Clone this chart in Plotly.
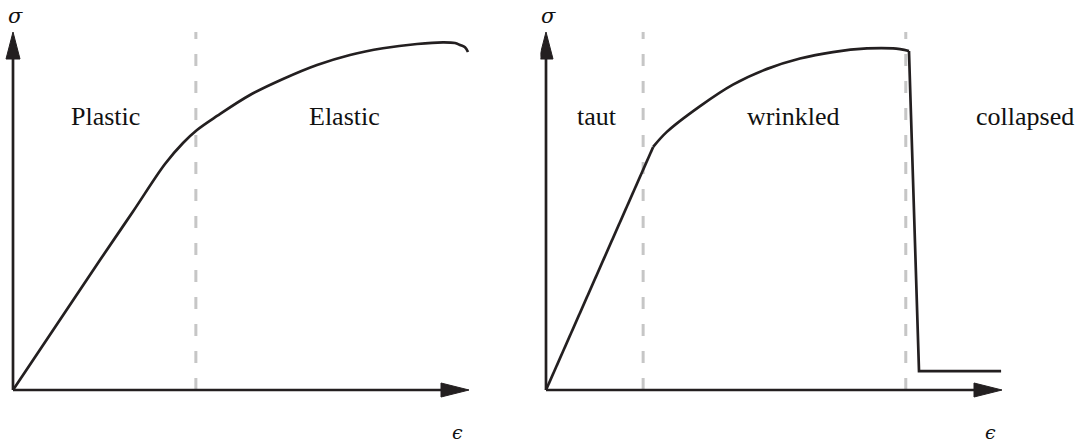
import plotly.graph_objects as go

# ---- data (strain in arbitrary units, stress in arbitrary units) ----
# Left panel: single smooth stress-strain curve
left_strain = [0.0, 1.908, 2.632, 3.333, 3.728, 4.035, 4.474, 5.197, 5.921, 6.667,
               7.390, 8.114, 8.860, 9.430, 9.693, 9.803, 9.912, 9.978]
left_stress = [0.0, 3.631, 4.986, 6.313, 6.899, 7.263, 7.654, 8.240, 8.687, 9.078,
               9.358, 9.545, 9.665, 9.712, 9.693, 9.637, 9.573, 9.441]
left_boundary = [4.01]
left_labels = ["Plastic", "Elastic"]
left_label_x = [2.03, 7.26]

# Right panel: taut (linear), wrinkled (curved), collapsed (drop + plateau)
taut_strain = [0.0, 2.35]
taut_stress = [0.0, 6.79]
wrinkled_strain = [2.35, 2.65, 3.38, 4.10, 4.85, 5.57, 6.29, 7.04, 7.61, 7.96]
wrinkled_stress = [6.79, 7.21, 7.93, 8.53, 8.97, 9.26, 9.44, 9.54, 9.54, 9.47]
collapse_strain = [7.96, 8.18, 9.98]
collapse_stress = [9.47, 0.53, 0.53]
right_boundaries = [2.13, 7.89]
right_labels = ["taut", "wrinkled", "collapsed"]
right_label_x = [1.12, 5.42, 10.50]

# ---- geometry ----
W, H = 1081, 443
PX_X = 45.6          # pixels per strain unit
PX_Y = 35.8          # pixels per stress unit
AXIS_LEN_X = 10.0
AXIS_LEN_Y = 10.0
LABEL_Y = 7.65
INK = "#231f20"
DASH_GREY = "#c6c6c6"
SERIF = "Liberation Serif, Times New Roman, serif"
SYMBOL_FONT = "DejaVu Serif, Liberation Serif, serif"

y_range = [-(H - 390) / PX_Y, 390 / PX_Y]
left_dom = [0.0, 0.5]
right_dom = [0.5, 1.0]
left_origin_px, right_origin_px = 13, 546


def x_range(dom, origin_px):
    lo = dom[0] * W
    hi = dom[1] * W
    return [(lo - origin_px) / PX_X, (hi - origin_px) / PX_X]


fig = go.Figure()

line_style = dict(color=INK, width=2.7)

fig.add_trace(go.Scatter(x=left_strain, y=left_stress, mode="lines",
                         line=dict(shape="spline", smoothing=1.0, **line_style),
                         xaxis="x", yaxis="y", hoverinfo="skip"))
fig.add_trace(go.Scatter(x=taut_strain, y=taut_stress, mode="lines",
                         line=line_style, xaxis="x2", yaxis="y2", hoverinfo="skip"))
fig.add_trace(go.Scatter(x=wrinkled_strain, y=wrinkled_stress, mode="lines",
                         line=dict(shape="spline", smoothing=1.0, **line_style),
                         xaxis="x2", yaxis="y2", hoverinfo="skip"))
fig.add_trace(go.Scatter(x=collapse_strain, y=collapse_stress, mode="lines",
                         line=line_style, xaxis="x2", yaxis="y2", hoverinfo="skip"))

shapes = []
annotations = []

head_len_x = 28 / PX_X
head_half_x = 7 / PX_Y
head_len_y = 27 / PX_Y
head_half_y = 7 / PX_X

for xr, yr, bounds, labels, lx in [("x", "y", left_boundary, left_labels, left_label_x),
                                    ("x2", "y2", right_boundaries, right_labels, right_label_x)]:
    # dashed region boundaries
    for b in bounds:
        shapes.append(dict(type="line", xref=xr, yref=yr, x0=b, x1=b, y0=0, y1=AXIS_LEN_Y,
                           line=dict(color=DASH_GREY, width=3, dash="12px,15px"), layer="below"))
    # axes lines
    shapes.append(dict(type="line", xref=xr, yref=yr, x0=0, x1=AXIS_LEN_X - head_len_x,
                       y0=0, y1=0, line=dict(color=INK, width=2.7)))
    shapes.append(dict(type="line", xref=xr, yref=yr, x0=0, x1=0,
                       y0=0, y1=AXIS_LEN_Y - head_len_y, line=dict(color=INK, width=2.7)))
    # arrow heads
    xb = AXIS_LEN_X - head_len_x
    shapes.append(dict(type="path", xref=xr, yref=yr,
                       path=f"M {xb},{-head_half_x} L {AXIS_LEN_X},0 L {xb},{head_half_x} Z",
                       fillcolor=INK, line=dict(color=INK, width=1)))
    yb = AXIS_LEN_Y - head_len_y
    shapes.append(dict(type="path", xref=xr, yref=yr,
                       path=f"M {-head_half_y},{yb} L 0,{AXIS_LEN_Y} L {head_half_y},{yb} Z",
                       fillcolor=INK, line=dict(color=INK, width=1)))
    # region labels
    for text, x in zip(labels, lx):
        annotations.append(dict(x=x, y=LABEL_Y, xref=xr, yref=yr, text=text, showarrow=False,
                                font=dict(family=SERIF, size=26, color="#111111")))
    # axis symbols
    annotations.append(dict(x=0.05, y=10.45, xref=xr, yref=yr, text="<i>σ</i>", showarrow=False,
                            font=dict(family=SYMBOL_FONT, size=21, color="#111111")))
    annotations.append(dict(x=AXIS_LEN_X - 0.25, y=-1.17, xref=xr, yref=yr, text="<i>ϵ</i>",
                            showarrow=False, font=dict(family=SYMBOL_FONT, size=19, color="#111111")))

axis_common = dict(showgrid=False, zeroline=False, showticklabels=False, showline=False,
                   ticks="", fixedrange=True)

fig.update_layout(
    width=W, height=H,
    margin=dict(l=0, r=0, t=0, b=0),
    paper_bgcolor="white", plot_bgcolor="white",
    showlegend=False,
    shapes=shapes, annotations=annotations,
    xaxis=dict(domain=left_dom, range=x_range(left_dom, left_origin_px), anchor="y", **axis_common),
    yaxis=dict(domain=[0, 1], range=y_range, anchor="x", **axis_common),
    xaxis2=dict(domain=right_dom, range=x_range(right_dom, right_origin_px), anchor="y2", **axis_common),
    yaxis2=dict(domain=[0, 1], range=y_range, anchor="x2", **axis_common),
)

fig.write_html("out.html")
